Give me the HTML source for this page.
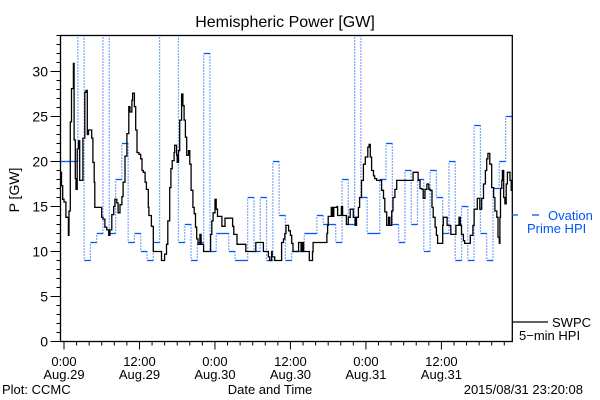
<!DOCTYPE html>
<html><head><meta charset="utf-8"><style>
html,body{margin:0;padding:0;background:#fff;}
svg{display:block;font-family:"Liberation Sans",sans-serif;}
</style></head><body>
<svg id="chart" width="600" height="400" viewBox="0 0 600 400">
<defs><clipPath id="plotclip"><rect x="60.5" y="35.5" width="451.8" height="306"/></clipPath></defs>
<text x="285" y="27" font-size="16" text-anchor="middle">Hemispheric Power [GW]</text>
<text transform="translate(19,190) rotate(-90)" font-size="14" text-anchor="middle">P [GW]</text>
<text x="270" y="394" font-size="13" text-anchor="middle">Date and Time</text>
<text x="2" y="394" font-size="13">Plot: CCMC</text>
<text x="583" y="394" font-size="13" text-anchor="end">2015/08/31 23:20:08</text>
<g id="axes"></g>
<g id="series" clip-path="url(#plotclip)"></g>
<rect x="60.5" y="35.5" width="451.8" height="306" fill="none" stroke="#000" stroke-width="1.3"/>
<g>
<line x1="512" y1="215" x2="518" y2="215" stroke="#0055ff" stroke-width="1.3"/>
<line x1="532" y1="215" x2="539" y2="215" stroke="#0055ff" stroke-width="1.3"/>
<text x="548" y="220" font-size="13" fill="#0055ff">Ovation</text>
<text x="527" y="233" font-size="13" fill="#0055ff">Prime HPI</text>
</g>
<g>
<line x1="512" y1="322" x2="548" y2="322" stroke="#000" stroke-width="1.3"/>
<text x="552" y="327" font-size="13">SWPC</text>
<text x="519" y="340" font-size="13">5−min HPI</text>
</g>
</svg>
<script>
// Ovation Prime hourly values (bin k spans hour k-0.8 .. k+0.2, hours from 0:00 Aug.29)
const blueV = [20,20,20,40,9,11,12,40,12,18,22,11,12,10,9,11,40,40,40,11,13,9,11,32,
10,12,12,10,9,9,16,10,16,9,20,14,9,10,10,12,12,14,13,13,11,18,13,34,
16,12,12,18,22,13,11,19,13,18,10,19,16,12,20,9,15,9,24,12,9,17,20,25];
// SWPC 5-min HPI samples: hours and values
const blackT = [-0.6,-0.4,-0.2,0.0,0.3,0.7,0.8,1.0,1.2,1.5,1.6,1.8,1.9,2.1,2.3,2.5,2.8,3.0,3.3,3.5,3.7,3.9,4.2,4.4,4.6,4.8,4.9,5.2,5.7,6.0,6.2,6.5,6.8,7.1,7.3,7.6,7.9,8.1,8.4,8.6,8.9,9.2,9.4,9.7,10.0,10.3,10.5,10.8,10.9,11.2,11.4,11.6,11.9,12.2,12.4,12.6,12.9,13.1,13.4,13.5,13.7,13.9,14.1,14.2,15.3,
15.5,15.8,16.0,16.3,16.5,16.8,17.0,17.2,17.5,17.6,17.9,18.0,18.2,18.4,18.7,18.9,19.1,19.3,19.5,19.8,20.0,20.2,20.5,20.7,20.9,21.1,21.3,21.6,21.8,22.2,23.1,23.3,23.5,23.7,24.0,24.2,24.4,24.8,25.1,25.5,25.6,26.5,26.8,27.0,27.5,28.8,28.9,
29.6,30.4,30.5,31.4,31.7,32.2,32.5,32.7,33.0,33.1,33.5,34.0,34.6,34.9,35.1,35.3,35.7,36.0,36.2,36.4,37.0,37.3,37.5,37.7,37.9,38.1,38.9,39.0,39.4,39.5,39.6,41.5,41.8,41.9,42.0,42.3,42.5,42.7,42.9,43.4,43.5,43.8,44.1,44.3,44.8,44.9,
45.2,45.5,45.7,46.0,46.3,46.5,46.8,47.0,47.3,47.6,47.9,48.3,48.5,48.7,48.9,49.2,49.4,49.7,50.2,50.5,50.8,51.0,51.3,51.6,51.8,52.1,52.3,52.6,52.9,55.3,55.5,56.0,56.3,56.6,56.9,57.1,57.4,57.7,58.0,
58.2,58.5,58.7,59.0,59.2,59.4,60.0,60.2,60.3,60.7,60.9,61.2,61.5,62.2,62.3,62.7,62.8,63.0,63.2,63.5,63.7,64.4,64.6,65.0,65.2,65.6,65.7,66.0,66.1,66.4,66.7,67.0,67.2,67.4,67.7,68.0,68.3,68.5,68.8,69.0,69.2,69.3,69.4,69.6,69.7,69.9,70.1,70.3,70.5,70.7,70.9,71.1,71.3];
const blackV = [18.8,17.3,15.8,15.5,13.8,11.8,14.5,24.4,28.1,30.9,22.4,18.1,16.9,21.4,22.3,17.9,17.9,22.6,27.7,27.9,23,23.5,23.5,22.6,19.9,17.7,14.9,14.9,14.9,13.8,13.6,12.7,12.4,11.8,12.4,14.1,15,15.8,15.4,14.3,15.2,16.1,17.7,20.6,23.1,26.1,25.5,26.8,27.6,26.1,23.5,21,20.8,20.3,19,18.8,17.7,16.9,14.9,14,14,12.8,12.8,10,10,
9,9,9.7,10.8,13.4,17.1,19.2,20.1,21,21.8,20.7,19.9,21.2,24.6,27.5,26.2,24.6,22.7,20.7,21.2,19.7,16.8,14.9,14.2,12.7,11.4,10.8,11.9,10.8,10,10,11.9,13.4,14.3,15.8,14.7,13.9,13.9,12.8,12.8,13.7,13.7,12.8,11.9,10.8,10.8,10,
10,10,11,11,10,10,9.4,9,10,9.4,9,9,11,11.4,12,12.9,12.3,11.8,10.9,10,10,11,11,10,11,10,10,9,9,10,11,11,12,12.9,13.9,13.9,14.9,13.9,14.9,15,14,14,15,14,14,13,
13.8,14.7,14.7,13.8,12.9,13.8,14.9,16,17.9,19.7,20.5,21.6,21.9,20.5,19,18.4,18.1,17.9,17.9,16.8,15.9,14.4,12.9,13.8,12.9,14.5,16,16.9,17.9,17.9,18.8,18.8,17.9,17,16.9,15.9,16.9,17.5,16.9,
16.8,14.9,13.8,12.7,11.8,10.9,10.9,12.9,13.8,13.8,12.9,12.9,11.9,11.9,12.9,12.9,13.8,12.9,11.9,11.2,10.9,10.9,11.8,12.9,14.7,14.7,15.9,15.9,14.7,15.9,17.5,19,20.3,20.9,19.7,17.1,16,14.5,13.8,11.6,10.9,13.8,17,17.9,19,16,15.3,17.5,18.8,18.8,17.9,16.8,16.8];
const yTickLabels = ["0","5","10","15","20","25","30"];
const xTickHours = [0,12,24,36,48,60];
const xTickTimes = ["0:00","12:00","0:00","12:00","0:00","12:00"];
const xTickDates = ["Aug.29","Aug.29","Aug.30","Aug.30","Aug.31","Aug.31"];

const NS = "http://www.w3.org/2000/svg";
const X0 = 64, PXH = 6.29, Y0 = 341.5, PXV = 9, HMIN = -0.55, HMAX = 71.3;
function xs(h){ return X0 + h*PXH; }
function ys(v){ return Y0 - v*PXV; }
function mk(tag, attrs, parent){
  const e = document.createElementNS(NS, tag);
  for (const k in attrs) e.setAttribute(k, attrs[k]);
  parent.appendChild(e); return e;
}
const axes = document.getElementById('axes');
const series = document.getElementById('series');

// y ticks
for (let v = 0; v <= 34; v++) {
  const major = v % 5 === 0;
  const t = mk('line', {x1: 60.5 - (major ? 10 : 4), x2: 60.5, y1: ys(v), y2: ys(v), stroke: '#000', 'stroke-width': 1}, axes);
  
  
}
yTickLabels.forEach((lab) => {
  const v = parseFloat(lab);
  const t = mk('text', {x: 48, y: ys(v) + 5, 'font-size': 14, 'text-anchor': 'end'}, axes);
  t.textContent = lab;
  
  
});
// x ticks
for (let h = 0; h <= 70; h += 2) {
  const major = h % 12 === 0;
  const t = mk('line', {x1: xs(h), x2: xs(h), y1: 341.5, y2: 341.5 + (major ? 8 : 4), stroke: '#000', 'stroke-width': 1}, axes);
  
  
}
xTickHours.forEach((h, i) => {
  const a = mk('text', {x: xs(h), y: 366, 'font-size': 13, 'text-anchor': 'middle'}, axes);
  a.textContent = xTickTimes[i];
  
  
  const b = mk('text', {x: xs(h), y: 379, 'font-size': 13, 'text-anchor': 'middle'}, axes);
  b.textContent = xTickDates[i];
  
  
});

// Ovation Prime: solid horizontals, dotted verticals
blueV.forEach((v, k) => {
  const a = Math.max(HMIN, k - 0.8), b = Math.min(HMAX, k + 0.2);
  const seg = mk('line', {x1: xs(a), x2: xs(b), y1: ys(v), y2: ys(v), stroke: '#0055ff', 'stroke-width': 1.3}, series);
  
  
  if (k > 0 && blueV[k-1] !== v) {
    const vl = mk('line', {x1: xs(a), x2: xs(a), y1: ys(blueV[k-1]), y2: ys(v), stroke: '#0055ff', 'stroke-width': 1.2, 'stroke-dasharray': '1 2'}, series);
    
    
  }
});

// SWPC stepped line
let d = '';
blackT.forEach((t, i) => {
  const x = xs(Math.max(HMIN, t)).toFixed(1), y = ys(blackV[i]).toFixed(1);
  if (i === 0) d = 'M' + x + ' ' + y;
  else d += ' H' + x + ' V' + y;
});
const bl = mk('path', {d: d, fill: 'none', stroke: '#000', 'stroke-width': 1.3}, series);


</script>
</body></html>
